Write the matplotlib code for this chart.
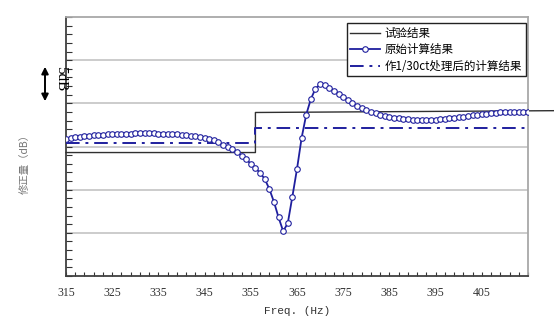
import matplotlib
matplotlib.use("Agg")
import matplotlib.pyplot as plt
import numpy as np

plt.rcParams['font.family'] = ['Noto Sans CJK SC', 'DejaVu Sans']

# --- data ---
freq = list(range(315, 416))
original_calc = [
    0.89, 0.97, 1.05, 1.12, 1.18, 1.23, 1.28, 1.32, 1.36, 1.40,   # 315-324
    1.43, 1.45, 1.47, 1.49, 1.50, 1.51, 1.52, 1.52, 1.52, 1.51,   # 325-334
    1.50, 1.48, 1.46, 1.43, 1.39, 1.35, 1.30, 1.24, 1.17, 1.10,   # 335-344
    1.00, 0.87, 0.70, 0.48, 0.22, -0.05, -0.30, -0.65, -1.05, -1.50,  # 345-354
    -2.00, -2.50, -3.05, -3.75, -4.90, -6.40, -8.20, -9.80, -8.90, -5.80,  # 355-364
    -2.60, 1.00, 3.70, 5.50, 6.70, 7.20, 7.10, 6.80, 6.45, 6.10,  # 365-374
    5.75, 5.40, 5.00, 4.70, 4.45, 4.20, 4.00, 3.85, 3.70, 3.55,   # 375-384
    3.45, 3.35, 3.25, 3.20, 3.15, 3.10, 3.07, 3.05, 3.05, 3.07,   # 385-394
    3.10, 3.15, 3.20, 3.27, 3.33, 3.40, 3.47, 3.53, 3.60, 3.66,   # 395-404
    3.72, 3.78, 3.84, 3.90, 3.95, 3.98, 4.00, 4.02, 4.04, 4.05,   # 405-414
    4.05,                                                         # 415
]
test_freq = [315, 356, 356, 421]
test_vals = [-0.7, -0.7, 3.94, 4.15]
oct_freq = [315, 356, 356, 415]
oct_vals = [0.46, 0.46, 2.2, 2.2]
xticks = [315, 325, 335, 345, 355, 365, 375, 385, 395, 405]

labels = ["试验结果", "原始计算结果", "作1/30ct处理后的计算结果"]

blue = '#1f1f9e'

fig = plt.figure(figsize=(5.54, 3.23), dpi=100)
ax = fig.add_axes([66/554, 1-276/323, (528-66)/554, (276-17)/323])

ax.set_xlim(315, 415)
ax.set_ylim(-15, 15)

# grid
for yv in [-10, -5, 0, 5, 10]:
    ax.axhline(yv, color='#c8c8c8', lw=1.3, zorder=0)

l1, = ax.plot(test_freq, test_vals, color='#303030', lw=1.0, clip_on=False, zorder=3)
l2, = ax.plot(freq, original_calc, color=blue, lw=1.3, marker='o', ms=4.0,
              mfc='white', mec=blue, mew=0.8, zorder=4)
l3, = ax.plot(oct_freq, oct_vals, color=blue, lw=1.4, dashes=(7, 3, 1.5, 3), zorder=3)

ax.set_xticks(xticks)
ax.set_xticklabels([str(v) for v in xticks], family='Liberation Serif', fontsize=8.5,
                   color='#333333')
ax.set_xticks(np.arange(315, 416, 2), minor=True)
ax.tick_params(axis='x', which='both', direction='in', length=3, width=0.8,
               color='#333333', pad=8)
ax.set_yticks(np.arange(-15, 16, 5))
ax.set_yticks(np.arange(-15, 16, 1), minor=True)
ax.tick_params(axis='y', which='both', direction='in', length=4, width=0.8,
               color='#333333', labelleft=False)

for side in ['left', 'bottom']:
    ax.spines[side].set_color('#404040')
    ax.spines[side].set_linewidth(1.3)
for side in ['top', 'right']:
    ax.spines[side].set_color('#a8a8a8')
    ax.spines[side].set_linewidth(1.3)

ax.set_xlabel("Freq. (Hz)", family='Liberation Mono', fontsize=8, color='#333333',
              labelpad=5)

fig.text(25/554, 1-161/323, "修正量（dB）", rotation=90, ha='center', va='center',
         fontsize=7.5, color='#777777')
fig.text(61/554, 1-79/323, "5dB", rotation=-90, ha='center', va='center',
         family='Liberation Serif', fontsize=11, color='black')
fig.add_artist(matplotlib.patches.FancyArrowPatch(
    (45/554, 1-64/323), (45/554, 1-104/323), transform=fig.transFigure,
    arrowstyle='<|-|>', mutation_scale=10, color='black', lw=1.4))

leg = ax.legend([l1, l2, l3], labels, loc='upper right',
                bbox_to_anchor=(1.0, 1 - 4/259), fontsize=8.3, frameon=True,
                fancybox=False, edgecolor='#222222', framealpha=1,
                handlelength=2.6, handletextpad=0.4, borderpad=0.3,
                labelspacing=0.3, borderaxespad=0.2)
leg.get_frame().set_linewidth(1.0)

fig.savefig("out.png", dpi=100)
